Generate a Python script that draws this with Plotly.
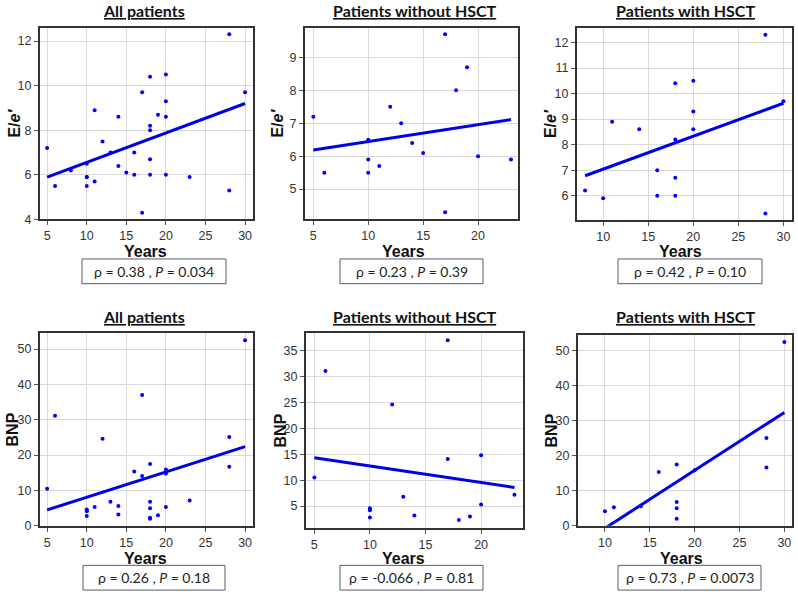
import plotly.graph_objects as go

W, H = 798, 605

# ---------------- data ----------------
ee_without_x = [5, 6, 10, 10, 10, 11, 12, 13, 14, 15, 17, 17, 18, 19, 20, 23]
ee_without_y = [7.2, 5.5, 6.5, 5.9, 5.5, 5.7, 7.5, 7.0, 6.4, 6.1, 9.7, 4.3, 8.0, 8.7, 6.0, 5.9]
ee_with_x = [8, 10, 11, 14, 16, 16, 18, 18, 18, 18, 20, 20, 20, 28, 28, 30]
ee_with_y = [6.2, 5.9, 8.9, 8.6, 7.0, 6.0, 10.4, 8.2, 6.7, 6.0, 10.5, 9.3, 8.6, 12.3, 5.3, 9.7]

bnp_without_x = [5, 6, 10, 10, 10, 12, 13, 14, 17, 17, 18, 19, 20, 20, 23]
bnp_without_y = [10.5, 31.1, 4.6, 4.2, 2.8, 24.6, 6.8, 3.2, 37.0, 14.1, 2.3, 3.0, 14.8, 5.3, 7.2]
bnp_with_x = [10, 11, 14, 16, 18, 18, 18, 18, 20, 28, 28, 30]
bnp_with_y = [4.2, 5.3, 5.6, 15.4, 17.5, 6.8, 5.0, 2.0, 15.9, 25.1, 16.7, 52.5]

# regression lines (end points)
fit_ee_all_x, fit_ee_all_y = [5, 30], [5.9, 9.2]
fit_ee_without_x, fit_ee_without_y = [5, 23], [6.19, 7.11]
fit_ee_with_x, fit_ee_with_y = [8, 30], [6.78, 9.62]
fit_bnp_all_x, fit_bnp_all_y = [5, 30], [4.5, 22.4]
fit_bnp_without_x, fit_bnp_without_y = [5, 23], [14.35, 8.6]
fit_bnp_with_x, fit_bnp_with_y = [10, 30], [-0.7, 32.4]

titles = ["All patients", "Patients without HSCT", "Patients with HSCT"] * 2
stats = [
    "ρ = 0.38 , <i>P</i> = 0.034",
    "ρ = 0.23 , <i>P</i> = 0.39",
    "ρ = 0.42 , <i>P</i> = 0.10",
    "ρ = 0.26 , <i>P</i> = 0.18",
    "ρ = -0.066 , <i>P</i> = 0.81",
    "ρ = 0.73 , <i>P</i> = 0.0073",
]
ylabels = ["<b>E/<i>e′</i></b>"] * 3 + ["<b>BNP</b>"] * 3

panels = [
    (ee_without_x + ee_with_x, ee_without_y + ee_with_y, fit_ee_all_x, fit_ee_all_y),
    (ee_without_x, ee_without_y, fit_ee_without_x, fit_ee_without_y),
    (ee_with_x, ee_with_y, fit_ee_with_x, fit_ee_with_y),
    (bnp_without_x + bnp_with_x, bnp_without_y + bnp_with_y, fit_bnp_all_x, fit_bnp_all_y),
    (bnp_without_x, bnp_without_y, fit_bnp_without_x, fit_bnp_without_y),
    (bnp_with_x, bnp_with_y, fit_bnp_with_x, fit_bnp_with_y),
]

# ---------------- layout (pixels) ----------------
frames = [  # left, right, top, bottom
    (40, 253, 28, 222), (305, 518, 28, 222), (577, 792, 28, 223),
    (40, 253, 337, 532), (306, 523, 337, 534), (578, 792, 339, 532),
]
xranges = [[4.1, 31], [4.24, 23.64], [7.1, 30.95], [4.1, 31], [4.25, 23.77], [7.0, 30.85]]
yranges = [[4, 12.6], [4.08, 9.9], [5.03, 12.58], [0, 54.5], [0.8, 38.4], [0, 54.5]]
ydticks = [2, 1, 1, 10, 5, 10]
title_x = [144, 415, 685, 144, 415, 685]
title_y = [11, 11, 11, 320, 320, 320]
years_x = [145, 403, 680, 145, 403, 681]
years_y = [254, 254, 254, 565, 565, 565]
ylab_x = [15, 278, 550, 12, 280, 551]
boxes = [(82, 226, 262, 287), (340, 483, 262, 287), (618, 762, 262, 287),
         (83, 225, 572, 597), (340, 483, 572, 597), (618, 761, 572, 597)]

def px(x):
    return x / W

def py(y):
    return 1 - y / H

fig = go.Figure()
annotations = []
shapes = []
tickfont = dict(family="Liberation Sans, Arial", size=12.5, color="#333333")

for i, (sx, sy, fx, fy) in enumerate(panels):
    n = i + 1
    xa = "x" if n == 1 else f"x{n}"
    ya = "y" if n == 1 else f"y{n}"
    fig.add_trace(go.Scatter(x=fx, y=fy, mode="lines", xaxis=xa, yaxis=ya,
                             line=dict(color="#0000e6", width=3), showlegend=False,
                             hoverinfo="skip"))
    fig.add_trace(go.Scatter(x=sx, y=sy, mode="markers", xaxis=xa, yaxis=ya,
                             marker=dict(color="#0000ff", size=4), showlegend=False))
    l, r, t, b = frames[i]
    axcommon = dict(showline=True, mirror=True, linecolor="#333333", linewidth=2,
                    showgrid=True, gridcolor="#d9d9d9", gridwidth=1, zeroline=False,
                    ticks="outside", ticklen=4, tickcolor="#555555", tickwidth=1,
                    tickfont=tickfont, fixedrange=True)
    fig.layout[("xaxis" if n == 1 else f"xaxis{n}")] = dict(
        domain=[px(l), px(r)], range=xranges[i], dtick=5, tick0=0,
        anchor=ya, **axcommon)
    fig.layout[("yaxis" if n == 1 else f"yaxis{n}")] = dict(
        domain=[py(b), py(t)], range=yranges[i], dtick=ydticks[i], tick0=0,
        anchor=xa, **axcommon)
    annotations.append(dict(x=px(title_x[i]), y=py(title_y[i]), xref="paper", yref="paper",
                            text=f"<b><u>{titles[i]}</u></b>", showarrow=False,
                            font=dict(family="Lato, Open Sans", size=16, color="#111111"),
                            xanchor="center", yanchor="middle"))
    annotations.append(dict(x=px(years_x[i]), y=py(years_y[i]), xref="paper", yref="paper",
                            text="<b>Years</b>", showarrow=False,
                            font=dict(family="Liberation Sans, Arial", size=16, color="#111111"),
                            xanchor="center", yanchor="middle"))
    annotations.append(dict(x=px(ylab_x[i]), y=py((t + b) / 2), xref="paper", yref="paper",
                            text=ylabels[i], showarrow=False, textangle=-90,
                            font=dict(family="Liberation Sans, Arial", size=16, color="#111111"),
                            xanchor="center", yanchor="middle"))
    bl, br, bt, bb = boxes[i]
    shapes.append(dict(type="rect", xref="paper", yref="paper",
                       x0=px(bl), x1=px(br), y0=py(bb), y1=py(bt),
                       line=dict(color="#5a5a6e", width=1), fillcolor="white"))
    annotations.append(dict(x=px((bl + br) / 2), y=py((bt + bb) / 2), xref="paper", yref="paper",
                            text=stats[i], showarrow=False,
                            font=dict(family="Lato, Open Sans", size=14, color="#222222"),
                            xanchor="center", yanchor="middle"))

fig.update_layout(width=W, height=H, margin=dict(l=0, r=0, t=0, b=0),
                  paper_bgcolor="white", plot_bgcolor="white",
                  annotations=annotations, shapes=shapes, showlegend=False)

fig.write_html("out.html", config={"displayModeBar": False},
               post_script="document.body.style.margin='0px';document.body.style.overflow='hidden';")
